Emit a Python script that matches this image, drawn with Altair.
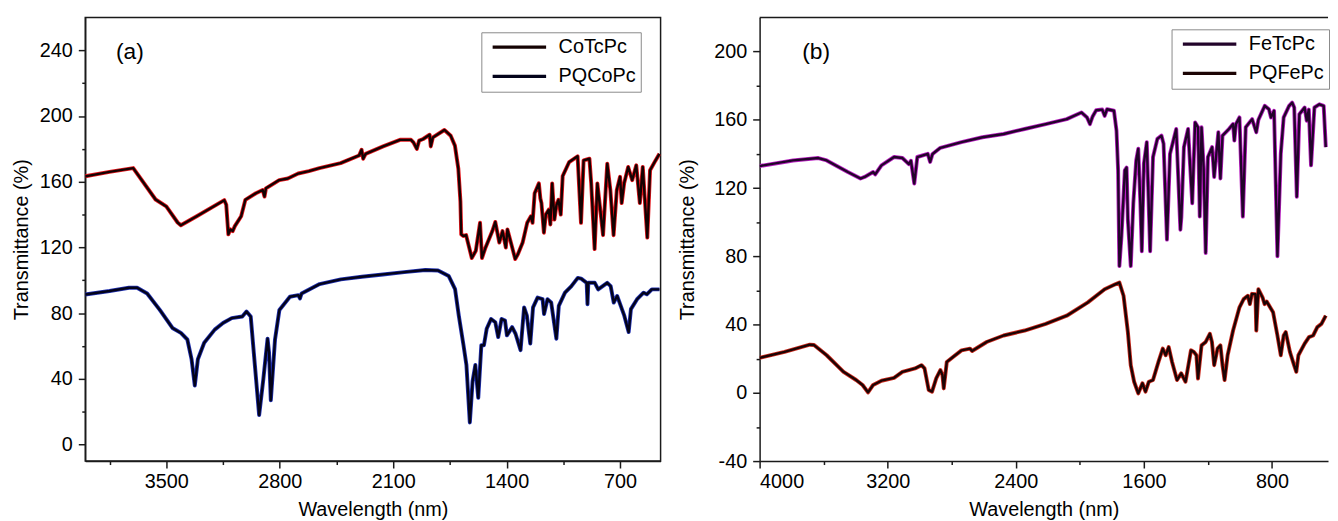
import altair as alt
import pandas as pd

FONT = "Liberation Sans"

# ---------------- panel (a) ----------------
a_series = ["CoTcPc", "PQCoPc"]

cotcpc = [
    (4000, 163.3), (3850, 166), (3704, 168.3), (3566, 149.2), (3500, 145), (3430, 135.2),
    (3410, 133.5), (3312, 139), (3142, 148.8), (3130, 146), (3117, 128), (3105, 131),
    (3090, 130), (3077, 133), (3038, 139), (3012, 149), (2947, 153), (2905, 155),
    (2894, 151), (2885, 156), (2803, 161), (2750, 162), (2686, 165), (2620, 166.5),
    (2555, 168.3), (2424, 171.3), (2310, 176), (2295, 179.5), (2285, 174), (2270, 177),
    (2162, 181.5), (2058, 185.5), (1990, 185.5), (1975, 184), (1954, 180), (1940, 185),
    (1915, 186), (1875, 188.6), (1868, 181.5), (1855, 187), (1784, 191.5), (1745, 188),
    (1719, 182), (1698, 168), (1685, 148), (1680, 128), (1667, 127), (1650, 127.5),
    (1615, 113.6), (1590, 118), (1564, 135), (1552, 113.6), (1530, 120), (1488, 130),
    (1470, 135.5), (1445, 123), (1425, 130), (1405, 120), (1395, 131), (1347, 113),
    (1330, 116), (1301, 123), (1273, 135), (1250, 139), (1240, 135), (1232, 146),
    (1227, 153), (1201, 159), (1192, 150), (1185, 147), (1170, 129), (1158, 140),
    (1140, 143), (1130, 134), (1119, 159), (1105, 137), (1092, 146), (1080, 149),
    (1066, 140), (1054, 163.5), (1014, 172), (962, 175.5), (941, 135), (925, 173),
    (889, 174), (878, 159), (857, 119), (840, 159), (805, 127.5), (779, 171),
    (760, 155), (740, 127.5), (720, 155), (700, 163), (690, 147), (675, 159),
    (650, 169), (625, 161), (600, 170), (578, 147), (560, 169), (532, 126),
    (515, 167), (481, 173), (457, 177),
]

pqcopc = [
    (4000, 91.4), (3850, 93.5), (3730, 95.5), (3680, 95.5), (3618, 92), (3540, 82),
    (3462, 71), (3410, 68), (3370, 64), (3344, 52), (3324, 36), (3305, 52),
    (3266, 62), (3201, 70), (3150, 74), (3096, 77), (3031, 78), (3005, 81),
    (2979, 78), (2953, 48), (2927, 18), (2901, 40), (2875, 64.5), (2866, 56),
    (2855, 27), (2829, 64), (2802, 82), (2737, 90), (2685, 91), (2675, 89),
    (2665, 92), (2554, 97.7), (2423, 100.6), (2293, 102.2), (2163, 103.6), (2032, 105),
    (1901, 106.3), (1823, 106), (1757, 102.6), (1718, 94.6), (1695, 78.5), (1666, 60.5),
    (1648, 48.5), (1627, 13.5), (1610, 38.5), (1593, 48.5), (1575, 28.5), (1556, 60.5),
    (1540, 60.5), (1523, 70.5), (1496, 76.5), (1470, 74.5), (1452, 65.5), (1431, 76.5),
    (1410, 75.5), (1398, 66.5), (1366, 71.5), (1345, 67.5), (1314, 57.5), (1292, 83.5),
    (1275, 78.5), (1254, 61.5), (1237, 83.5), (1209, 89.5), (1178, 88.5), (1169, 79.5),
    (1148, 88.5), (1125, 86.5), (1093, 64.5), (1078, 84.5), (1040, 92.5), (1000, 96.5),
    (961, 101.5), (940, 101), (906, 98.5), (901, 85.5), (896, 98.5), (856, 98.5),
    (835, 94.5), (779, 98.5), (758, 96.5), (739, 86.5), (718, 90.5), (674, 78.5),
    (647, 68.5), (633, 82.5), (595, 88.5), (555, 92.5), (535, 91.5), (504, 94.5),
    (457, 94.5),
]

# ---------------- panel (b) ----------------
b_series = ["FeTcPc", "PQFePc"]

fetcpc = [
    (4000, 132.9), (3791, 136.2), (3633, 137.6), (3581, 136.2), (3449, 129.4), (3370, 125.6),
    (3344, 126.5), (3291, 129.4), (3278, 128), (3239, 133.3), (3160, 138.2), (3108, 137.6),
    (3068, 134), (3055, 136), (3034, 122.7), (3015, 138.2), (2950, 140.1), (2935, 135.3),
    (2920, 140), (2871, 143.6), (2739, 146.9), (2608, 149.8), (2476, 151.7), (2345, 154.6),
    (2213, 157.5), (2082, 160.4), (1990, 164.3), (1955, 161.4), (1937, 157.5), (1920, 162),
    (1898, 165.6), (1860, 166), (1845, 162.3), (1830, 166.2), (1787, 165.3), (1771, 153.6),
    (1761, 130.4), (1753, 74.3), (1740, 91.7), (1719, 130.4), (1708, 132), (1700, 101.4),
    (1682, 74.3), (1666, 111.1), (1648, 136.2), (1635, 143), (1622, 111.1), (1613, 83),
    (1600, 134.3), (1582, 146.9), (1561, 83), (1543, 138.2), (1516, 148.8), (1490, 150.7),
    (1477, 146), (1456, 89.8), (1437, 140), (1398, 154.6), (1372, 95.6), (1366, 103),
    (1350, 144), (1324, 154.6), (1298, 111.1), (1280, 158.5), (1262, 155.6), (1251, 103.3),
    (1240, 155.6), (1227, 132.3), (1214, 82), (1200, 138.2), (1174, 144), (1161, 126.5),
    (1135, 152.7), (1122, 125.6), (1109, 150.7), (1069, 154.6), (1043, 157.5), (1035, 147.8),
    (1025, 157.5), (1003, 161.4), (982, 103.3), (964, 155.6), (924, 160.4), (898, 152.7),
    (885, 160), (845, 168.2), (819, 166.2), (806, 161.4), (787, 165.3), (766, 80.1),
    (745, 140), (727, 161.4), (693, 168.2), (674, 170.1), (661, 167.2), (645, 114.9),
    (629, 163.3), (596, 167.2), (583, 159.5), (570, 166), (556, 133.3), (535, 167.2),
    (504, 169.1), (477, 168.2), (464, 144),
]

pqfepc = [
    (4000, 20.5), (3844, 24), (3686, 28.2), (3660, 28), (3581, 22), (3476, 12.3),
    (3397, 7.5), (3357, 4.6), (3323, 0.3), (3291, 4.6), (3239, 7.1), (3160, 8.8),
    (3108, 12.3), (3029, 14.3), (2989, 16.2), (2970, 14.3), (2944, 1.7), (2923, 0.7),
    (2897, 8.5), (2871, 13.3), (2858, 10.4), (2850, 2.6), (2831, 18.1), (2792, 21),
    (2739, 24.9), (2686, 25.9), (2673, 24.5), (2582, 29.8), (2476, 33.6), (2345, 36.5),
    (2213, 40.4), (2082, 45.2), (1950, 53), (1845, 60.7), (1779, 63.6), (1753, 64.6),
    (1727, 56.9), (1700, 35.6), (1682, 16.2), (1661, 6.5), (1635, -0.3), (1609, 5.6),
    (1590, 0.7), (1569, 6.5), (1543, 7.5), (1509, 18.1), (1482, 25.9), (1464, 22),
    (1445, 26.8), (1424, 18.1), (1393, 7.5), (1367, 11.4), (1340, 6.5), (1306, 24.9),
    (1288, 24), (1272, 22), (1262, 8.4), (1240, 27.8), (1214, 29.8), (1188, 34.6),
    (1175, 29.8), (1161, 16.2), (1140, 25.9), (1122, 27.8), (1109, 16.2), (1096, 7.5),
    (1077, 22), (1043, 36.5), (1003, 50.1), (977, 54.9), (951, 56.9), (938, 52),
    (925, 58), (903, 57.8), (898, 36.5), (885, 60.7), (859, 55.9), (846, 52),
    (833, 53.5), (793, 47.2), (766, 33.6), (745, 22), (727, 33.6), (714, 35.6),
    (688, 24), (662, 16.2), (648, 12.3), (635, 22), (596, 28.8), (569, 32.6),
    (543, 33.6), (517, 38.5), (491, 40.4), (464, 45.2),
]

# ---------------- axes ----------------
a_xticks = [3850, 3500, 3150, 2800, 2450, 2100, 1750, 1400, 1050, 700]
a_yticks = [0, 20, 40, 60, 80, 100, 120, 140, 160, 180, 200, 220, 240]
b_xticks = [4000, 3600, 3200, 2800, 2400, 2000, 1600, 1200, 800]
b_yticks = [-40, -20, 0, 20, 40, 60, 80, 100, 120, 140, 160, 180, 200]
panel_labels = ["(a)", "(b)"]

# legend line glyph: a long horizontal stroke drawn mostly left of the symbol centre
LEGEND_GLYPH = "M-9,0H1"


def frame(points, name):
    return pd.DataFrame({
        "wl": [p[0] for p in points],
        "T": [p[1] for p in points],
        "series": name,
        "idx": list(range(len(points))),
    })


def tick_len(step):
    return {"condition": {"test": f"datum.value % {step} != 0", "value": 3.5}, "value": 7}


def panel(df, names, halo_cols, core_cols, xticks, xstep, ydom, yticks, ystep,
          label, lx, legx, legy, width, ytitle_pad, boxed):
    xenc = alt.X(
        "wl:Q",
        scale=alt.Scale(domain=[450, 4000], reverse=True, nice=False, zero=False),
        axis=alt.Axis(title="Wavelength (nm)", values=xticks,
                      labelExpr=f"datum.value % {xstep} == 0 ? '' + datum.value : ''",
                      tickSize=tick_len(xstep), labelPadding=4, titlePadding=8),
    )
    yenc = alt.Y(
        "T:Q",
        scale=alt.Scale(domain=ydom, nice=False, zero=False),
        axis=alt.Axis(title="Transmittance (%)", values=yticks,
                      labelExpr=f"datum.value % {ystep} == 0 ? '' + datum.value : ''",
                      tickSize=tick_len(ystep), labelPadding=6, titlePadding=ytitle_pad),
    )
    base = alt.Chart(df)
    halo = base.mark_line(strokeWidth=4.0, clip=True, strokeJoin="round").encode(
        x=xenc, y=yenc, order="idx:Q",
        color=alt.Color("series:N", scale=alt.Scale(domain=names, range=halo_cols), legend=None),
    )
    core = base.mark_line(strokeWidth=2.4, clip=True, strokeJoin="round").encode(
        x=xenc, y=yenc, order="idx:Q",
        color=alt.Color(
            "series:N",
            scale=alt.Scale(domain=names, range=core_cols),
            legend=alt.Legend(
                title=None, orient="none", legendX=legx, legendY=legy,
                direction="vertical", symbolType=LEGEND_GLYPH, symbolSize=116.6,
                symbolOffset=45, symbolStrokeWidth=3.2, labelFontSize=20,
                labelFont=FONT, labelColor="black", labelOffset=8, padding=5,
                rowPadding=9.5, strokeColor="#8a8a8a", fillColor="white",
                labelLimit=300,
            ),
        ),
    )
    lab_df = pd.DataFrame({"label": [label]})
    text = alt.Chart(lab_df).mark_text(
        align="left", baseline="alphabetic", fontSize=23, font=FONT, color="black"
    ).encode(x=alt.value(lx), y=alt.value(42), text="label:N")
    layers = [halo, core, text]
    if boxed:
        view = alt.ViewBackground(stroke="#1a1a1a", strokeWidth=1.5)
    else:
        view = alt.ViewBackground(stroke="transparent")
        top = alt.Chart(lab_df).mark_rule(color="#1a1a1a", strokeWidth=1.5).encode(
            x=alt.value(0), x2=alt.value(width), y=alt.value(0)
        )
        layers.append(top)
    return alt.layer(*layers).resolve_scale(color="independent").properties(
        width=width, height=448, view=view
    )


dfa = pd.concat([frame(cotcpc, "CoTcPc"), frame(pqcopc, "PQCoPc")], ignore_index=True)
dfb = pd.concat([frame(fetcpc, "FeTcPc"), frame(pqfepc, "PQFePc")], ignore_index=True)

left = panel(dfa, a_series, ["#e3161c", "#2030b0"], ["#140202", "#03031a"],
             a_xticks, 700, [-10, 260], a_yticks, 40, panel_labels[0], 31, 400, 15,
             581, 8, True)
right = panel(dfb, b_series, ["#b81fc0", "#cc2a1e"], ["#22042a", "#1c0404"],
              b_xticks, 800, [-40, 220], b_yticks, 40, panel_labels[1], 43, 416, 12,
              574, 16, False)

chart = (
    alt.hconcat(left, right, spacing=16)
    .resolve_scale(color="independent")
    .resolve_legend(color="independent")
    .properties(padding={"left": 2, "top": 5, "right": 0, "bottom": 0}, background="white")
    .configure_axis(
        labelFont=FONT, titleFont=FONT, labelFontSize=20, titleFontSize=20,
        labelColor="black", titleColor="black", titleFontWeight="normal",
        tickColor="#1a1a1a", domainColor="#1a1a1a", tickWidth=1.5, domainWidth=1.5,
        grid=False,
    )
)

chart.save("out.html", embed_options={"renderer": "svg", "actions": False})
